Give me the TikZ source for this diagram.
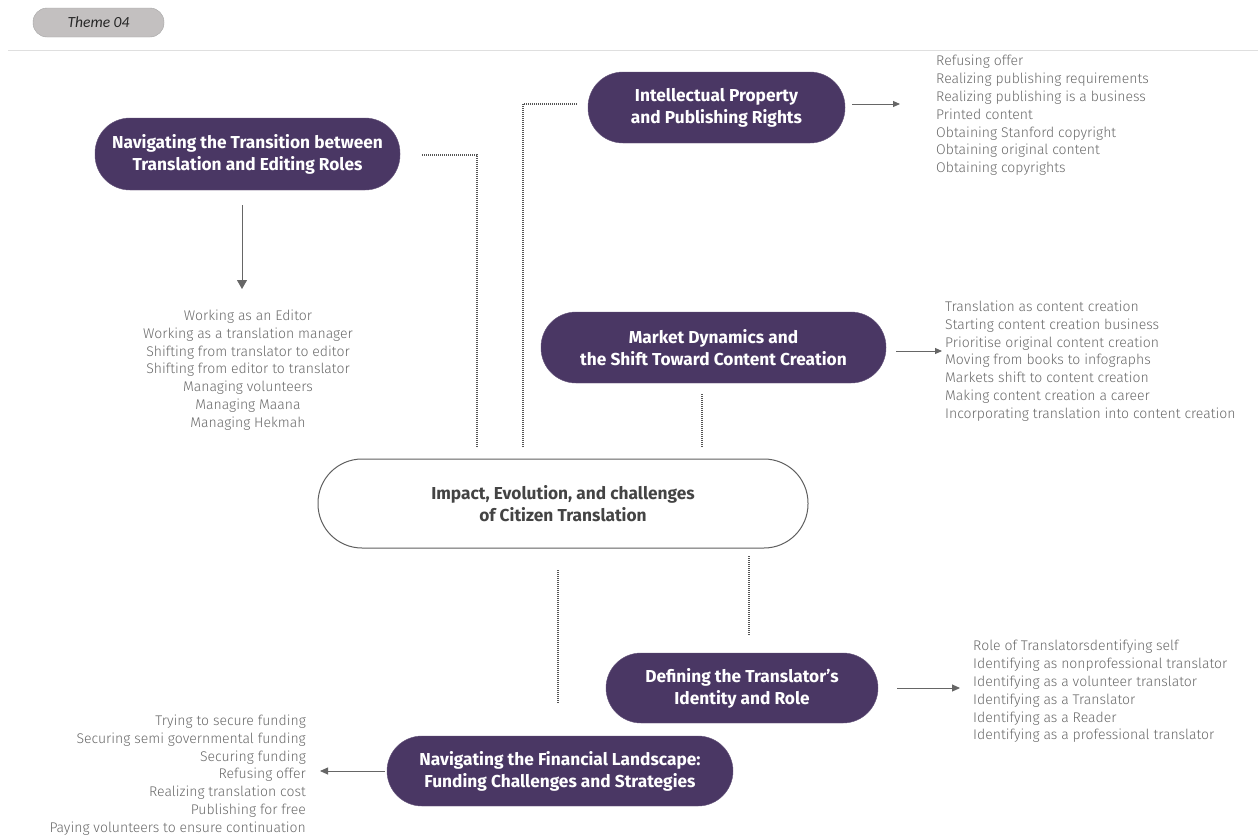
\documentclass[tikz,border=0pt]{standalone}
\usepackage{fontspec}
\usetikzlibrary{arrows.meta}
\setmainfont{Fira Sans}
\newfontfamily\lightf{Fira Sans Light}
\newfontfamily\themef{Carlito}
\definecolor{purp}{HTML}{4A3764}
\definecolor{listgray}{HTML}{6A6A6A}
\definecolor{arrgray}{HTML}{666666}
\definecolor{dotgray}{HTML}{555555}
\definecolor{centertext}{HTML}{444444}
\definecolor{themefill}{HTML}{C3C0C0}
\begin{document}
\begin{tikzpicture}[x=1pt,y=-1pt,
  pill/.style={fill=purp, draw=purp!85!white, rounded corners=35pt, text=white,
    font=\bfseries\fontsize{17.3}{22}\selectfont, align=center, inner sep=0pt},
  lst/.style={font=\lightf\fontsize{14}{17.8}\selectfont, text=listgray, inner sep=0pt},
  arr/.style={draw=arrgray, line width=0.9pt, -{Triangle[length=7pt,width=6pt]}},
  dots/.style={draw=dotgray, line width=1.1pt, dash pattern=on 1pt off 1pt}]
\useasboundingbox (0,0) rectangle (1258,836);
\fill[white] (0,0) rectangle (1258,836);

% header
\node[fill=themefill, draw=gray!70, rounded corners=14pt, minimum width=131pt,
  minimum height=29pt, inner sep=0pt, font=\themef\itshape\fontsize{15.5}{17}\selectfont,
  text=black!85] (theme) at (98.5,22.5) {Theme 04};
\coordinate (hl1) at (8,50);
\coordinate (hl2) at (1258,50);
\draw[gray!25, line width=1pt] (hl1) -- (hl2);

% main nodes
\node[pill, minimum width=305pt, minimum height=72pt] (A) at (247.5,154)
  {Navigating the Transition between\\Translation and Editing Roles};
\node[pill, minimum width=257pt, minimum height=71pt] (B) at (716.5,107.5)
  {Intellectual Property\\and Publishing Rights};
\node[pill, minimum width=345pt, minimum height=71pt] (C) at (713.5,347.5)
  {Market Dynamics and\\the Shift Toward Content Creation};
\node[draw=gray!75!black, line width=1pt, fill=white, rounded corners=44pt,
  minimum width=490pt, minimum height=89pt, align=center, inner sep=0pt,
  text=centertext, font=\bfseries\fontsize{17.3}{22}\selectfont] (M) at (563,503.5)
  {Impact, Evolution, and challenges\\of Citizen Translation};
\node[pill, minimum width=272pt, minimum height=70pt] (D) at (742,688)
  {Defining the Translator's\\Identity and Role};
\node[pill, minimum width=346pt, minimum height=70pt] (E) at (560,771)
  {Navigating the Financial Landscape:\\Funding Challenges and Strategies};

% lists
\node[lst, align=center, anchor=center] (Al) at (248,370)
  {Working as an Editor\\Working as a translation manager\\Shifting from translator to editor\\Shifting from editor to translator\\Managing volunteers\\Managing Maana\\Managing Hekmah};
\node[lst, align=left, anchor=west] (Bl) at (936,115.5)
  {Refusing offer\\Realizing publishing requirements\\Realizing publishing is a business\\Printed content\\Obtaining Stanford copyright\\Obtaining original content\\Obtaining copyrights};
\node[lst, align=left, anchor=west] (Cl) at (945,361)
  {Translation as content creation\\Starting content creation business\\Prioritise original content creation\\Moving from books to infographs\\Markets shift to content creation\\Making content creation a career\\Incorporating translation into content creation};
\node[lst, align=left, anchor=west] (Dl) at (973,691.5)
  {Role of Translatorsdentifying self\\Identifying as nonprofessional translator\\Identifying as a volunteer translator\\Identifying as a Translator\\Identifying as a Reader\\Identifying as a professional translator};
\node[lst, align=right, anchor=east] (El) at (306,775)
  {Trying to secure funding\\Securing semi governmental funding\\Securing funding\\Refusing offer\\Realizing translation cost\\Publishing for free\\Paying volunteers to ensure continuation};

% arrows to lists
\coordinate (a0) at (242,205);
\coordinate (a1) at (242,289);
\draw[arr, -{Triangle[length=9pt,width=10pt]}] (a0) -- (a1);
\coordinate (b0) at (852,104);
\coordinate (b1) at (900,104);
\draw[arr] (b0) -- (b1);
\coordinate (c0) at (896,351);
\coordinate (c1) at (942,351);
\draw[arr] (c0) -- (c1);
\coordinate (d0) at (897,688);
\coordinate (d1) at (960,688);
\draw[arr, -{Triangle[length=8pt,width=7pt]}] (d0) -- (d1);
\coordinate (e0) at (385,771);
\coordinate (e1) at (320,771);
\draw[arr, -{Triangle[length=8pt,width=7pt]}] (e0) -- (e1);

% dotted links to the center
\coordinate (p1) at (422,155);
\coordinate (p2) at (477,447);
\draw[dots] (p1) -| (p2);
\coordinate (q1) at (577,104);
\coordinate (q2) at (523,447);
\draw[dots] (q1) -| (q2);
\coordinate (r1) at (702,394);
\coordinate (r2) at (702,447);
\draw[dots] (r1) -- (r2);
\coordinate (s1) at (558,570);
\coordinate (s2) at (558,703);
\draw[dots] (s1) -- (s2);
\coordinate (t1) at (749,556);
\coordinate (t2) at (749,636);
\draw[dots] (t1) -- (t2);
\end{tikzpicture}
\end{document}
